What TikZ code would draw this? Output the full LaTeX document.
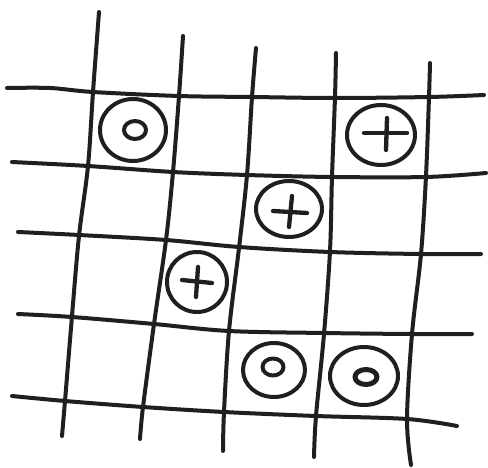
\documentclass[tikz,border=0pt]{standalone}
\begin{document}
\begin{tikzpicture}[x=1pt,y=-1pt,
  ink/.style={draw=black!88, line width=4pt, line cap=round, line join=round},
  plusmark/.style={draw=black!88, line width=4.3pt, line cap=round}]
\fill[white] (0,0) rectangle (488,468);
\useasboundingbox (0,0) rectangle (488,468);
% vertical lines
\draw[ink] plot[smooth,tension=0.55] coordinates {(99,12) (93,92) (88,166) (79,236) (72,316) (65,401) (62,436)};
\draw[ink] plot[smooth,tension=0.55] coordinates {(183,36) (179,96) (173,172) (166,240) (154,324) (143,407) (140,439)};
\draw[ink] plot[smooth,tension=0.55] coordinates {(256,48) (252,97) (247,175) (239,248) (229,331) (224,412) (223,451)};
\draw[ink] plot[smooth,tension=0.55] coordinates {(336,53) (335,97) (332,177) (330,251) (324,334) (316,416) (314,457)};
\draw[ink] plot[smooth,tension=0.55] coordinates {(430,63) (429,97) (426,176) (421,254) (412,334) (407,419) (411,465)};
% horizontal lines
\draw[ink] plot[smooth,tension=0.55] coordinates {(7,88) (50,88) (93,92) (179,96) (252,97) (335,98) (429,97) (484,95)};
\draw[ink] plot[smooth,tension=0.55] coordinates {(12,162) (88,166) (173,172) (247,175) (332,177) (426,177) (486,173)};
\draw[ink] plot[smooth,tension=0.55] coordinates {(18,232) (79,235) (166,240) (239,247) (330,252) (421,254) (481,254)};
\draw[ink] plot[smooth,tension=0.55] coordinates {(18,314) (72,317) (154,324) (229,331) (324,333) (412,334) (472,334)};
\draw[ink] plot[smooth,tension=0.55] coordinates {(12,396) (65,401) (143,407) (224,412) (316,416) (407,419) (457,426)};
% circle centres
\coordinate (c1) at (133,130);
\coordinate (c2) at (381,135);
\coordinate (c3) at (289,209);
\coordinate (c4) at (197,282);
\coordinate (c5) at (274,370);
\coordinate (c6) at (364,376);
% circled o
\draw[ink] (c1) ellipse [x radius=33pt, y radius=31pt];
\draw[ink] (135,130) ellipse [x radius=11pt, y radius=9pt];
\draw[ink] (c5) ellipse [x radius=31pt, y radius=27pt];
\draw[ink] (273,367) ellipse [x radius=10.5pt, y radius=8.5pt];
\draw[ink] (c6) ellipse [x radius=34pt, y radius=29pt];
\draw[ink, line width=5pt] (366,377) ellipse [x radius=11pt, y radius=7.5pt];
% circled +
\draw[ink] (c2) ellipse [x radius=34pt, y radius=30pt];
\draw[plusmark] (364,133) -- (407,133);
\draw[plusmark] (387,118) -- (386,150);
\draw[ink] (c3) ellipse [x radius=33pt, y radius=28pt];
\draw[plusmark] (273,211) -- (307,213);
\draw[plusmark] (292,196) -- (289,227);
\draw[ink] (c4) ellipse [x radius=30pt, y radius=30pt];
\draw[plusmark] (182,280) -- (212,283);
\draw[plusmark] (198,267) -- (196,297);
\end{tikzpicture}
\end{document}
